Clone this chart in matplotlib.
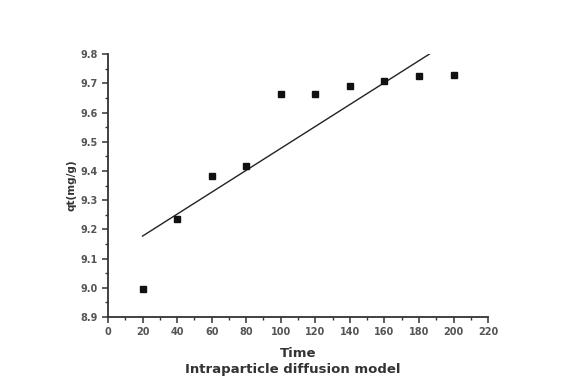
import matplotlib
matplotlib.use("Agg")
import matplotlib.pyplot as plt
from matplotlib.ticker import MultipleLocator

# Measured data
time = [20, 40, 60, 80, 100, 120, 140, 160, 180, 200]
qt = [8.995, 9.234, 9.382, 9.416, 9.662, 9.665, 9.690, 9.709, 9.725, 9.728]

# Linear fit line (end points)
fit_x = [20, 186]
fit_y = [9.177, 9.800]

fig = plt.figure(figsize=(5.61, 3.81), dpi=100)
ax = fig.add_axes([0.1925, 0.168, 0.6775, 0.69])

ax.plot(fit_x, fit_y, color="#222222", lw=1.0)
ax.plot(time, qt, ls="none", marker="s", ms=4.5, color="#111111")

ax.set_xlim(0, 220)
ax.set_ylim(8.9, 9.8)
ax.xaxis.set_major_locator(MultipleLocator(20))
ax.xaxis.set_minor_locator(MultipleLocator(10))
ax.yaxis.set_major_locator(MultipleLocator(0.1))
ax.yaxis.set_minor_locator(MultipleLocator(0.05))

for s in ["top", "right"]:
    ax.spines[s].set_visible(False)
for s in ["left", "bottom"]:
    ax.spines[s].set_linewidth(1.3)
    ax.spines[s].set_color("#333333")

ax.tick_params(which="major", direction="out", length=4, width=1.1,
               labelsize=7, colors="#333333", labelcolor="#555555")
ax.tick_params(which="minor", direction="out", length=2, width=1.0, colors="#333333")
for lab in ax.get_xticklabels() + ax.get_yticklabels():
    lab.set_fontweight("bold")

ax.set_ylabel("qt(mg/g)", fontsize=7.5, fontweight="bold", color="#333333", labelpad=3)
ax.set_xlabel("Time", fontsize=9.5, fontweight="bold", color="#333333", labelpad=7)
fig.text(0.522, 0.03, "Intraparticle diffusion model", ha="center", va="center",
         fontsize=9.5, fontweight="bold", color="#333333")

fig.savefig("out.png", dpi=100)
